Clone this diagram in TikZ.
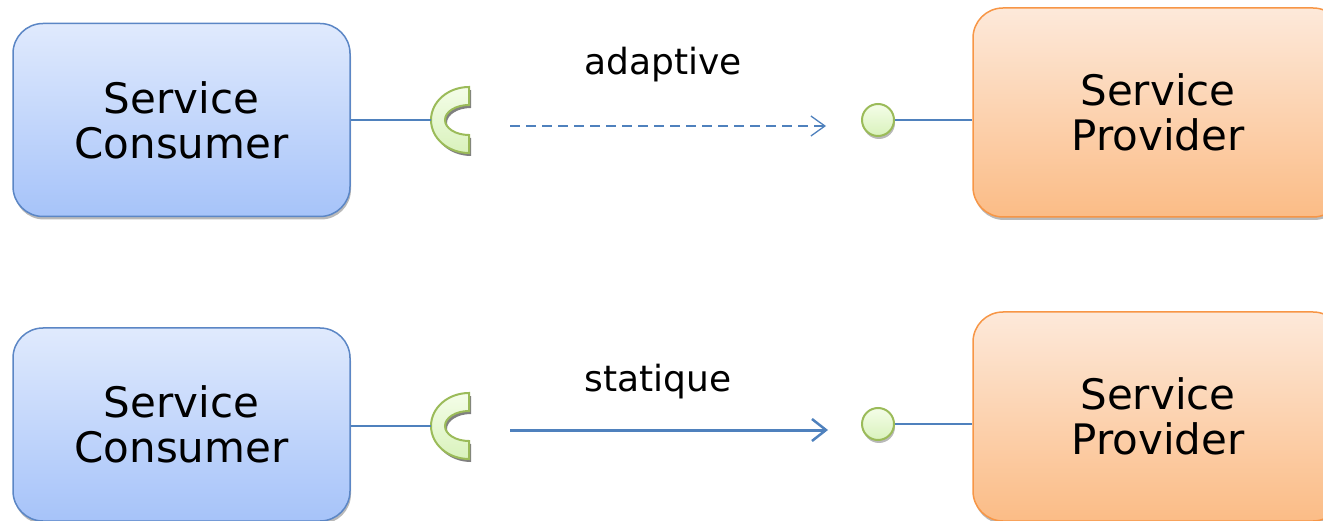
\documentclass[tikz,border=0pt]{standalone}
\usepackage{fontspec}
\setmainfont{DejaVu Sans}
\usetikzlibrary{positioning,shadows,arrows.meta}

\definecolor{lineblue}{HTML}{4F81BD}
\definecolor{consborder}{HTML}{5B86C5}
\definecolor{constop}{HTML}{E0EAFD}
\definecolor{consbot}{HTML}{A6C3F9}
\definecolor{provborder}{HTML}{F79646}
\definecolor{provtop}{HTML}{FDE9DA}
\definecolor{provbot}{HTML}{FBBC86}
\definecolor{ifborder}{HTML}{9BBB59}
\definecolor{iftop}{HTML}{F4FDE8}
\definecolor{ifbot}{HTML}{D9F2BC}

\tikzset{
  socket/.pic={
    \fill[gray,xshift=2pt,yshift=-3pt] (0,-33) arc[start angle=90,end angle=270,x radius=38,y radius=-33]
      -- (0,15) arc[start angle=270,end angle=90,x radius=24,y radius=-15] -- cycle;
    \draw[ifborder,line width=2pt,top color=iftop,bottom color=ifbot]
      (0,-33) arc[start angle=90,end angle=270,x radius=38,y radius=-33]
      -- (0,15) arc[start angle=270,end angle=90,x radius=24,y radius=-15] -- cycle;
    \coordinate (-tip) at (-38,0);
  }
}

\begin{document}
\begin{tikzpicture}[x=1pt,y=-1pt,
  box/.style={rectangle,rounded corners=30pt,line width=1.5pt,align=center,
    font=\fontsize{42}{45}\selectfont,drop shadow={shadow xshift=1pt,shadow yshift=-3pt,fill=black!55}},
  consumer/.style={box,draw=consborder,top color=constop,bottom color=consbot,
    minimum width=337pt,minimum height=193pt},
  provider/.style={box,draw=provborder,top color=provtop,bottom color=provbot,
    minimum width=370pt,minimum height=209pt},
  ball/.style={circle,draw=ifborder,line width=2pt,top color=iftop,bottom color=ifbot,
    minimum size=32pt,inner sep=0pt,drop shadow={shadow xshift=1pt,shadow yshift=-3pt,fill=black!55}},
  wire/.style={lineblue,line width=1.5pt},
  lbl/.style={font=\fontsize{36}{40}\selectfont}]
\clip (0,0) rectangle (1323,521);
\useasboundingbox (0,0) rectangle (1323,521);

% adaptive binding
\node[consumer] (consA) at (181.5,120) {Service\\Consumer};
\node[provider] (provA) at (1158,112.5) {Service\\Provider};
\pic (sockA) at (469,120) {socket};
\node[ball] (ballA) at (878,120) {};
\draw[wire] (consA.east |- sockA-tip) -- (sockA-tip);
\draw[wire] (ballA) -- (provA.west |- ballA);
\coordinate (adS) at (510,126);
\coordinate (adE) at (826,126);
\draw[lineblue,line width=1.3pt,dash pattern=on 10pt off 6pt,-{Straight Barb[length=14pt,width=20pt,line width=1.3pt]}] (adS) -- (adE);
\node[lbl] (adapt) at (663,65) {adaptive};

% static binding
\node[consumer] (consB) at (181.5,424.5) {Service\\Consumer};
\node[provider] (provB) at (1158,416.5) {Service\\Provider};
\pic (sockB) at (469,426) {socket};
\node[ball] (ballB) at (878,424) {};
\draw[wire] (consB.east |- sockB-tip) -- (sockB-tip);
\draw[wire] (ballB) -- (provB.west |- ballB);
\coordinate (stS) at (510,430);
\coordinate (stE) at (828,430);
\draw[lineblue,line width=3pt,-{Straight Barb[length=14pt,width=22pt,line width=2.5pt]}] (stS) -- (stE);
\node[lbl] (stat) at (658,382) {statique};
\end{tikzpicture}
\end{document}
